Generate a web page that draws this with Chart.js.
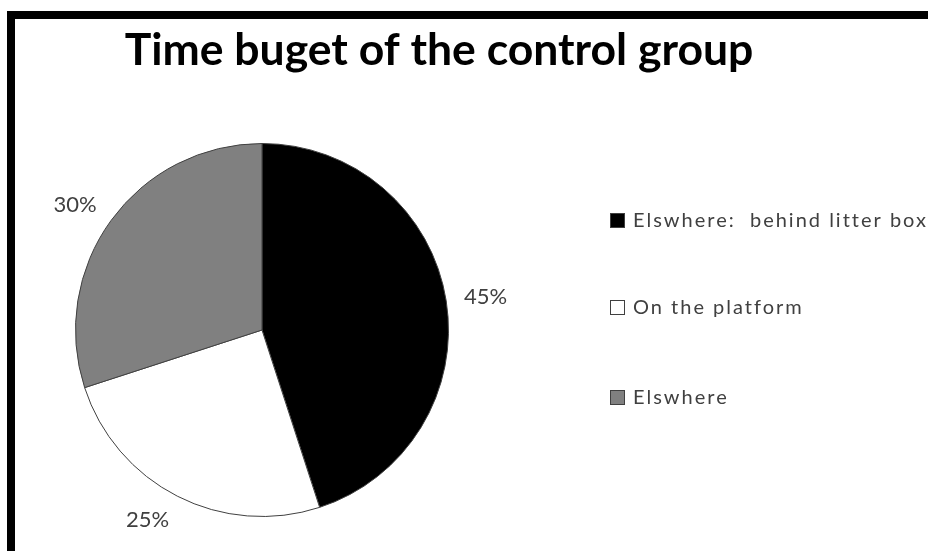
<!DOCTYPE html>
<html>
<head>
<meta charset="utf-8">
<script src="https://cdn.jsdelivr.net/npm/chart.js@4"></script>
<style>
  html, body { margin: 0; padding: 0; background: #fff; }
  canvas { display: block; }
</style>
</head>
<body>
<canvas id="pieChart" width="928" height="551"></canvas>
<script>
// chart data
const chartTitle = 'Time buget of the control group';
const categories = ['Elswhere:  behind litter box', 'On the platform', 'Elswhere'];
const shares = [45, 25, 30];
const sliceColors = ['#000000', '#ffffff', '#808080'];
const legendRows = [220, 307, 397];

const textColor = '#404040';
const ctx = document.getElementById('pieChart');

// frame, title, outside labels and the legend on the right
const decorations = {
  id: 'decorations',
  afterDraw(chart) {
    const c = chart.ctx;
    c.save();

    // thick frame, only top and left edges show
    c.fillStyle = '#000';
    c.fillRect(7, 11, 921, 8);
    c.fillRect(7, 11, 8, 540);

    // title
    c.fillStyle = '#000';
    c.font = 'bold 44.5px Lato';
    c.textAlign = 'center';
    c.textBaseline = 'alphabetic';
    c.fillText(chartTitle, 439, 65);

    // percentage labels outside each slice, aligned away from the pie
    const meta = chart.getDatasetMeta(0);
    c.fillStyle = textColor;
    c.font = '22px Lato';
    c.textBaseline = 'middle';
    meta.data.forEach((arc, i) => {
      const { x, y, startAngle, endAngle, outerRadius } = arc.getProps(['x', 'y', 'startAngle', 'endAngle', 'outerRadius'], true);
      const mid = (startAngle + endAngle) / 2;
      const cos = Math.cos(mid), sin = Math.sin(mid);
      const r = outerRadius + 18;
      c.textAlign = cos >= 0 ? 'left' : 'right';
      c.fillText(shares[i] + '%', x + cos * r, y + sin * r + sin * 9);
    });

    // legend
    c.textAlign = 'left';
    c.font = '20px Lato';
    categories.forEach((name, i) => {
      const yy = legendRows[i];
      c.fillStyle = sliceColors[i];
      c.fillRect(610, yy - 7, 15, 15);
      c.strokeStyle = textColor;
      c.lineWidth = 1;
      c.strokeRect(610.5, yy - 6.5, 14, 14);
      c.fillStyle = textColor;
      c.letterSpacing = '2px';
      c.fillText(name, 633, yy + 1);
      c.letterSpacing = '0px';
    });

    c.restore();
  }
};

new Chart(ctx, {
  type: 'pie',
  data: {
    labels: categories,
    datasets: [{
      data: shares,
      backgroundColor: sliceColors,
      borderColor: '#404040',
      borderWidth: 1
    }]
  },
  options: {
    responsive: false,
    animation: false,
    layout: {
      padding: { left: 75, right: 479, top: 143, bottom: 34 }
    },
    plugins: {
      legend: { display: false },
      title: { display: false },
      tooltip: { enabled: false }
    }
  },
  plugins: [decorations]
});
</script>
</body>
</html>
